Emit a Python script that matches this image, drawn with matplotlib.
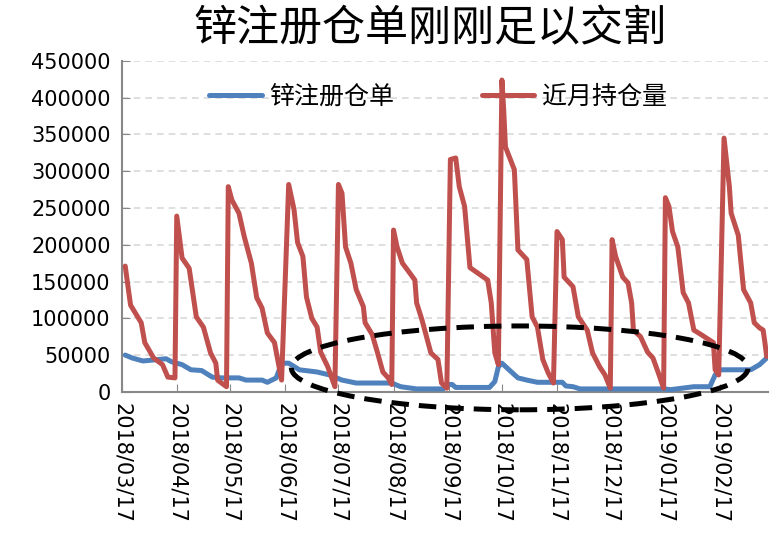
import numpy as np
import pandas as pd
import matplotlib
matplotlib.use("Agg")
import matplotlib.pyplot as plt
import matplotlib.dates as mdates
from matplotlib.patches import Ellipse

plt.rcParams["font.family"] = ["DejaVu Sans", "Noto Sans CJK SC"]

# 近月持仓量 (near-month open interest)
oi_dates = [
    "2018-03-19", "2018-03-22", "2018-03-28", "2018-03-30", "2018-04-04", "2018-04-09",
    "2018-04-12", "2018-04-16", "2018-04-17", "2018-04-20", "2018-04-24", "2018-04-28",
    "2018-05-02", "2018-05-06", "2018-05-09", "2018-05-10", "2018-05-15", "2018-05-16",
    "2018-05-18", "2018-05-22", "2018-05-25", "2018-05-29", "2018-06-01", "2018-06-04",
    "2018-06-07", "2018-06-11", "2018-06-15", "2018-06-19", "2018-06-22", "2018-06-24",
    "2018-06-27", "2018-06-29", "2018-07-02", "2018-07-05", "2018-07-07", "2018-07-11",
    "2018-07-15", "2018-07-17", "2018-07-19", "2018-07-21", "2018-07-24", "2018-07-27",
    "2018-07-31", "2018-08-01", "2018-08-05", "2018-08-08", "2018-08-11", "2018-08-14",
    "2018-08-16", "2018-08-17", "2018-08-19", "2018-08-22", "2018-08-26", "2018-08-29",
    "2018-08-30", "2018-09-02", "2018-09-07", "2018-09-11", "2018-09-13", "2018-09-16",
    "2018-09-18", "2018-09-21", "2018-09-23", "2018-09-26", "2018-09-29", "2018-10-09",
    "2018-10-11", "2018-10-13", "2018-10-15", "2018-10-17", "2018-10-18", "2018-10-19",
    "2018-10-24", "2018-10-26", "2018-10-31", "2018-11-03", "2018-11-06", "2018-11-09",
    "2018-11-12", "2018-11-15", "2018-11-17", "2018-11-20", "2018-11-21", "2018-11-26",
    "2018-11-29", "2018-12-04", "2018-12-07", "2018-12-11", "2018-12-14", "2018-12-17",
    "2018-12-18", "2018-12-20", "2018-12-24", "2018-12-27", "2018-12-29", "2018-12-30",
    "2019-01-03", "2019-01-07", "2019-01-10", "2019-01-13", "2019-01-16", "2019-01-17",
    "2019-01-19", "2019-01-21", "2019-01-24", "2019-01-27", "2019-01-30", "2019-02-02",
    "2019-02-06", "2019-02-13", "2019-02-14", "2019-02-16", "2019-02-19", "2019-02-22",
    "2019-02-23", "2019-02-27", "2019-03-02", "2019-03-06", "2019-03-08", "2019-03-11",
    "2019-03-13", "2019-03-14", "2019-03-15",
]
oi_values = [
    171000, 118000, 94000, 67000, 46000, 37000,
    20000, 19000, 239000, 182000, 168000, 102000,
    88000, 53000, 39000, 16000, 7000, 279000,
    261000, 243000, 211000, 175000, 128000, 114000,
    80000, 67000, 16000, 282000, 248000, 203000,
    184000, 129000, 100000, 88000, 54000, 34000,
    7000, 282000, 270000, 197000, 175000, 139000,
    116000, 94000, 78000, 53000, 27000, 19000,
    10000, 220000, 197000, 175000, 162000, 152000,
    121000, 98000, 53000, 44000, 12000, 5000,
    316000, 318000, 279000, 252000, 169000, 152000,
    121000, 53000, 37000, 424000, 383000, 333000,
    302000, 193000, 180000, 102000, 88000, 44000,
    26000, 12000, 218000, 207000, 156000, 143000,
    102000, 84000, 53000, 34000, 23000, 5000,
    207000, 184000, 156000, 148000, 121000, 84000,
    75000, 54000, 46000, 26000, 5000, 264000,
    252000, 218000, 197000, 135000, 121000, 84000,
    78000, 67000, 30000, 23000, 345000, 279000,
    243000, 213000, 139000, 121000, 94000, 87000,
    84000, 67000, 48000,
]

# 锌注册仓单 (registered zinc warrants)
wr_dates = [
    "2018-03-19", "2018-03-23", "2018-03-29", "2018-04-11", "2018-04-14", "2018-04-20",
    "2018-04-25", "2018-05-01", "2018-05-07", "2018-05-12", "2018-05-22", "2018-05-26",
    "2018-06-04", "2018-06-07", "2018-06-12", "2018-06-15", "2018-06-19", "2018-06-25",
    "2018-07-05", "2018-07-12", "2018-07-19", "2018-07-27", "2018-08-16", "2018-08-21",
    "2018-08-30", "2018-09-14", "2018-09-16", "2018-09-19", "2018-09-21", "2018-10-10",
    "2018-10-13", "2018-10-15", "2018-10-17", "2018-10-21", "2018-10-26", "2018-10-31",
    "2018-11-06", "2018-11-20", "2018-11-22", "2018-11-26", "2018-11-30", "2019-01-16",
    "2019-01-20", "2019-02-02", "2019-02-11", "2019-02-14", "2019-02-17", "2019-03-06",
    "2019-03-11", "2019-03-15",
]
wr_values = [
    50000, 46000, 42000, 45000, 41000, 37000,
    30000, 29000, 20000, 19000, 19000, 16000,
    16000, 13000, 19000, 39000, 39000, 30000,
    27000, 23000, 16000, 12000, 12000, 7000,
    4000, 4000, 10000, 10000, 6000, 6000,
    14000, 34000, 39000, 30000, 19000, 16000,
    13000, 13000, 8000, 7000, 4000, 4000,
    3000, 7000, 7000, 23000, 30000, 30000,
    37000, 46000,
]

# monthly ticks on the 17th
tick_dates = pd.date_range("2018-03-01", "2019-02-01", freq="MS") + pd.Timedelta(days=16)

fig = plt.figure(figsize=(7.7, 5.39), dpi=100)
ax = fig.add_axes([0.158, 0.273, 0.84, 0.614])

ax.plot(pd.to_datetime(wr_dates), wr_values, color="#4F81BD", lw=3.6,
        solid_joinstyle="round", solid_capstyle="round", label="锌注册仓单", zorder=3)
ax.plot(pd.to_datetime(oi_dates), oi_values, color="#C0504D", lw=3.6,
        solid_joinstyle="round", solid_capstyle="round", label="近月持仓量", zorder=4)

ax.set_ylim(0, 450000)
ax.set_yticks(np.arange(0, 450001, 50000))
ax.set_xlim(pd.Timestamp("2018-03-17"), pd.Timestamp("2019-03-16"))
ax.set_xticks(tick_dates)
ax.xaxis.set_major_formatter(mdates.DateFormatter("%Y/%m/%d"))
ax.tick_params(axis="x", labelrotation=-90, labelsize=15, direction="in",
               length=6, color="#888888", pad=8)
ax.tick_params(axis="y", labelsize=15, direction="in", length=6, color="#888888", pad=8)
for lbl in ax.get_xticklabels():
    lbl.set_va("top")

ax.grid(axis="y", color="#D9D9D9", linestyle=(0, (4, 3)), lw=1.2)
ax.set_axisbelow(True)
for side in ["top", "right"]:
    ax.spines[side].set_visible(False)
for side in ["left", "bottom"]:
    ax.spines[side].set_color("#888888")
    ax.spines[side].set_linewidth(1.5)

# dashed ring around the low-warrant period
cx = mdates.date2num(pd.Timestamp("2018-10-27"))
ring = Ellipse((cx, 32600), width=257, height=114000, fill=False, edgecolor="black",
               lw=3.6, linestyle=(0, (3.5, 2)), clip_on=False, zorder=6)
ax.add_patch(ring)

ax.legend(loc="center", bbox_to_anchor=(0.489, 0.891), ncol=2, frameon=False,
          prop={"family": "Noto Sans CJK SC", "size": 18}, handlelength=2.1,
          handletextpad=0.3, columnspacing=3.5)

fig.text(0.558, 0.945, "锌注册仓单刚刚足以交割", ha="center", va="center",
         fontsize=31, family="Noto Sans CJK SC")

fig.savefig("out.png", dpi=100)
